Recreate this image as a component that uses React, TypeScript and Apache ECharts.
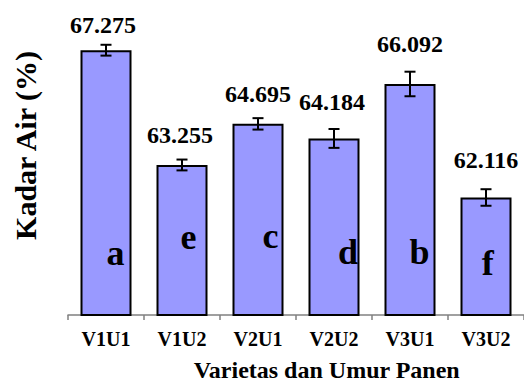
import React, { useEffect, useRef } from "react";
import * as echarts from "echarts";

// ---- data ----
const categories = ["V1U1", "V1U2", "V2U1", "V2U2", "V3U1", "V3U2"];
const moisture = [67.275, 63.255, 64.695, 64.184, 66.092, 62.116];
const errors = [0.19, 0.19, 0.2, 0.33, 0.43, 0.29];
const letters = ["a", "e", "c", "d", "b", "f"];
const axisMin = 58;
const axisMax = 68;
const yTitle = "Kadar Air (%)";
const xTitle = "Varietas dan Umur Panen";

// ---- styling (label nudges, px) ----
const valueLabelShift = [
  [-3, -25],
  [-2, -29.6],
  [0, -29.7],
  [-2, -36.7],
  [0, -40.4],
  [0, -37.3],
];
const letterShift = [
  [9.6, -62],
  [6.5, -77.7],
  [12.6, -79.3],
  [14.1, -62.7],
  [9.4, -63],
  [1.7, -52],
];

const FONT = "Liberation Serif";

const textStyle = (text: string, size: number) => ({
  text,
  fontFamily: FONT,
  fontSize: size,
  fontWeight: "bold",
  fill: "#000",
  align: "center",
  verticalAlign: "middle",
});

export default function App() {
  const ref = useRef<HTMLDivElement>(null);
  useEffect(() => {
    if (!ref.current) return;
    const chart = echarts.init(ref.current, null, { renderer: "svg" });
    const option: any = {
      animation: false,
      backgroundColor: "#fff",
      grid: { left: 68, right: -3, top: 29.5, bottom: 68, containLabel: false },
      xAxis: {
        type: "category",
        data: categories,
        axisLine: { show: true, lineStyle: { color: "#808080", width: 1.5 } },
        axisTick: { show: true, length: 5, lineStyle: { color: "#808080", width: 1.5 } },
        axisLabel: {
          color: "#000",
          fontFamily: FONT,
          fontWeight: "bold",
          fontSize: 20,
          margin: 14,
        },
      },
      yAxis: {
        type: "value",
        min: axisMin,
        max: axisMax,
        show: false,
        splitLine: { show: false },
      },
      graphic: [
        {
          type: "text",
          x: 25,
          y: 145.5,
          rotation: Math.PI / 2,
          style: textStyle(yTitle, 30),
        },
        {
          type: "text",
          x: 326.7,
          y: 370,
          style: textStyle(xTitle, 24),
        },
      ],
      series: [
        {
          type: "bar",
          data: moisture,
          barWidth: 51,
          itemStyle: { color: "#9999FF", borderColor: "#000", borderWidth: 2 },
        },
        {
          type: "custom",
          clip: false,
          z: 5,
          data: moisture.map((v, i) => [i, v, errors[i]]),
          encode: { x: 0, y: 1 },
          renderItem: (params: any, api: any) => {
            const idx = params.dataIndex;
            const i = api.value(0);
            const v = api.value(1);
            const e = api.value(2);
            const top = api.coord([i, v + e]);
            const bot = api.coord([i, v - e]);
            const mid = api.coord([i, v]);
            const base = api.coord([i, axisMin]);
            const cap = 5.5;
            const ls = { stroke: "#000", lineWidth: 2 };
            const vs = valueLabelShift[idx];
            const lsft = letterShift[idx];
            return {
              type: "group",
              children: [
                { type: "line", shape: { x1: top[0], y1: top[1], x2: bot[0], y2: bot[1] }, style: ls },
                { type: "line", shape: { x1: top[0] - cap, y1: top[1], x2: top[0] + cap, y2: top[1] }, style: ls },
                { type: "line", shape: { x1: bot[0] - cap, y1: bot[1], x2: bot[0] + cap, y2: bot[1] }, style: ls },
                {
                  type: "text",
                  x: mid[0] + vs[0],
                  y: mid[1] + vs[1],
                  style: textStyle(moisture[idx].toFixed(3), 24),
                },
                {
                  type: "text",
                  x: base[0] + lsft[0],
                  y: base[1] + lsft[1],
                  style: textStyle(letters[idx], 36),
                },
              ],
            };
          },
        },
      ],
    };
    chart.setOption(option);
    return () => chart.dispose();
  }, []);
  return (
    <div
      ref={ref}
      style={{ position: "fixed", left: 0, top: 0, width: 524, height: 383, background: "#fff" }}
    />
  );
}
